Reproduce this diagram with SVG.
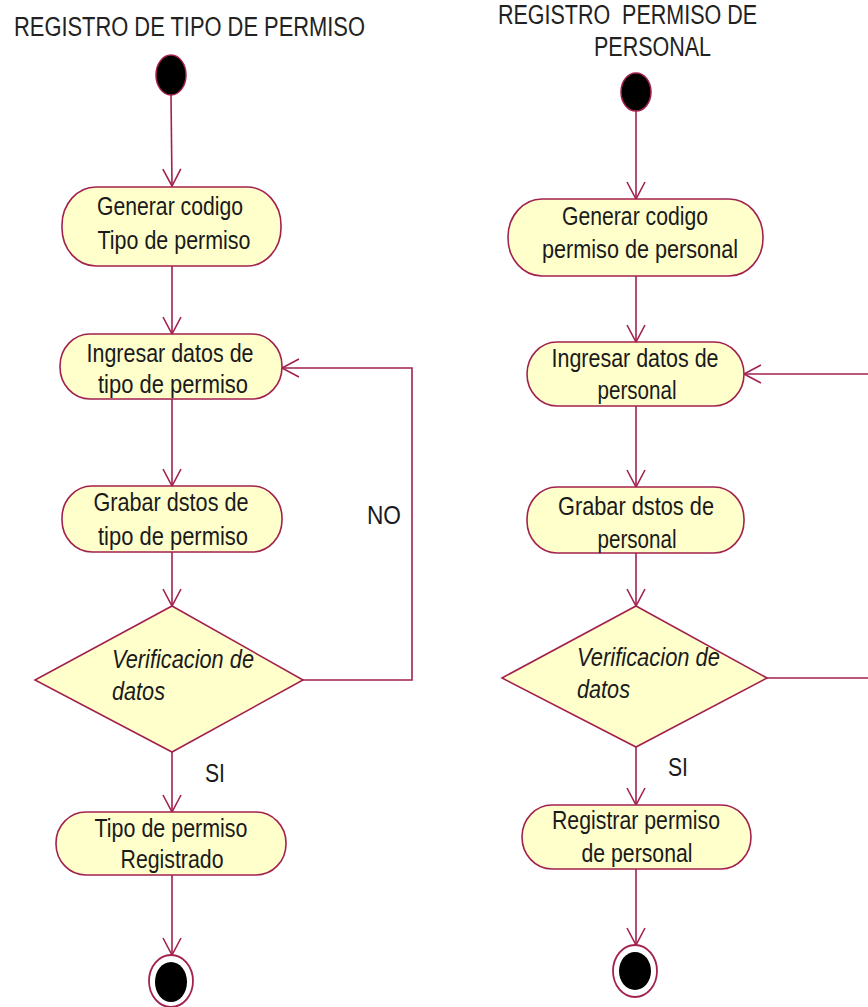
<svg xmlns="http://www.w3.org/2000/svg" width="868" height="1007" viewBox="0 0 868 1007">
<style>
.bg{fill:#ffffff}
.act{fill:#FFFFCC;stroke:#A3214F;stroke-width:1.6}
.dec{fill:#FFFFCC;stroke:#A3214F;stroke-width:1.6}
.start{fill:#000;stroke:#A3214F;stroke-width:1.5}
.endo{fill:#fff;stroke:#A3214F;stroke-width:1.8}
.edge{fill:none;stroke:#A3214F;stroke-width:1.6}
.t{font-family:"Liberation Sans",Arial,sans-serif;font-size:26px;fill:#1a1a1a}
.it{font-style:italic}
.title{font-family:"Liberation Sans",Arial,sans-serif;font-size:27px;fill:#222}
</style>
<defs>
<marker id="arr" markerWidth="20" markerHeight="24" viewBox="0 0 20 24" refX="18" refY="12" orient="auto" markerUnits="userSpaceOnUse">
<path d="M1,3 L18,12 L1,21" fill="none" stroke="#A3214F" stroke-width="1.6"/>
</marker>
</defs>
<rect class="bg" x="0" y="0" width="868" height="1007"/>

<text class="title" x="14" y="36" textLength="351" lengthAdjust="spacingAndGlyphs">REGISTRO DE TIPO DE PERMISO</text>
<text class="title" x="498" y="24" textLength="259" lengthAdjust="spacingAndGlyphs" xml:space="preserve">REGISTRO  PERMISO DE</text>
<text class="title" x="594" y="56" textLength="117" lengthAdjust="spacingAndGlyphs">PERSONAL</text>

<g id="connectors">
<line class="edge" x1="171" y1="95" x2="172" y2="186" marker-end="url(#arr)"/>
<line class="edge" x1="172" y1="266" x2="172" y2="334" marker-end="url(#arr)"/>
<line class="edge" x1="172" y1="399" x2="172" y2="486" marker-end="url(#arr)"/>
<line class="edge" x1="172" y1="552" x2="172" y2="606" marker-end="url(#arr)"/>
<line class="edge" x1="172" y1="752" x2="172" y2="812" marker-end="url(#arr)"/>
<line class="edge" x1="172" y1="875" x2="172" y2="955" marker-end="url(#arr)"/>
<polyline class="edge" points="303,680 412,680 412,368 282,368" marker-end="url(#arr)"/>

<line class="edge" x1="636" y1="110" x2="636" y2="199" marker-end="url(#arr)"/>
<line class="edge" x1="636" y1="276" x2="636" y2="342" marker-end="url(#arr)"/>
<line class="edge" x1="636" y1="406" x2="636" y2="487" marker-end="url(#arr)"/>
<line class="edge" x1="636" y1="553" x2="636" y2="606" marker-end="url(#arr)"/>
<line class="edge" x1="636" y1="747" x2="636" y2="805" marker-end="url(#arr)"/>
<line class="edge" x1="636" y1="869" x2="636" y2="945" marker-end="url(#arr)"/>
<line class="edge" x1="868" y1="374" x2="744" y2="374" marker-end="url(#arr)"/>
<line class="edge" x1="767" y1="678" x2="868" y2="678"/>
</g>

<text class="t" x="384" y="524" text-anchor="middle" textLength="34" lengthAdjust="spacingAndGlyphs">NO</text>
<text class="t" x="215" y="782" text-anchor="middle" textLength="20" lengthAdjust="spacingAndGlyphs">SI</text>
<text class="t" x="678" y="776" text-anchor="middle" textLength="20" lengthAdjust="spacingAndGlyphs">SI</text>

<g id="start1"><ellipse class="start" cx="171" cy="75" rx="15" ry="20"/></g>
<g id="gen1">
<rect class="act" x="62" y="187" width="219" height="79" rx="34" ry="38"/>
<text class="t" x="170" y="215" text-anchor="middle" textLength="146" lengthAdjust="spacingAndGlyphs">Generar codigo</text>
<text class="t" x="174" y="249" text-anchor="middle" textLength="153" lengthAdjust="spacingAndGlyphs">Tipo de permiso</text>
</g>
<g id="ing1">
<rect class="act" x="60" y="334" width="222" height="65" rx="30" ry="32"/>
<text class="t" x="170" y="362" text-anchor="middle" textLength="167" lengthAdjust="spacingAndGlyphs">Ingresar datos de</text>
<text class="t" x="173" y="393" text-anchor="middle" textLength="150" lengthAdjust="spacingAndGlyphs">tipo de permiso</text>
</g>
<g id="grab1">
<rect class="act" x="62" y="486" width="220" height="66" rx="30" ry="32"/>
<text class="t" x="171" y="511" text-anchor="middle" textLength="155" lengthAdjust="spacingAndGlyphs">Grabar dstos de</text>
<text class="t" x="173" y="545" text-anchor="middle" textLength="150" lengthAdjust="spacingAndGlyphs">tipo de permiso</text>
</g>
<g id="ver1">
<polygon class="dec" points="172,606 303,680 172,752 35,680"/>
<text class="t it" x="112" y="668" textLength="142" lengthAdjust="spacingAndGlyphs">Verificacion de</text>
<text class="t it" x="112" y="700" textLength="53" lengthAdjust="spacingAndGlyphs">datos</text>
</g>
<g id="reg1">
<rect class="act" x="56" y="812" width="230" height="63" rx="30" ry="31"/>
<text class="t" x="171" y="837" text-anchor="middle" textLength="153" lengthAdjust="spacingAndGlyphs">Tipo de permiso</text>
<text class="t" x="172" y="868" text-anchor="middle" textLength="103" lengthAdjust="spacingAndGlyphs">Registrado</text>
</g>
<g id="end1">
<ellipse class="endo" cx="171" cy="981" rx="22" ry="26"/>
<ellipse cx="171" cy="982" rx="16" ry="20" fill="#000"/>
</g>

<g id="start2"><ellipse class="start" cx="636" cy="92" rx="15" ry="19"/></g>
<g id="gen2">
<rect class="act" x="508" y="199" width="255" height="77" rx="34" ry="38"/>
<text class="t" x="635" y="225" text-anchor="middle" textLength="146" lengthAdjust="spacingAndGlyphs">Generar codigo</text>
<text class="t" x="640" y="258" text-anchor="middle" textLength="196" lengthAdjust="spacingAndGlyphs">permiso de personal</text>
</g>
<g id="ing2">
<rect class="act" x="527" y="342" width="217" height="64" rx="30" ry="32"/>
<text class="t" x="635" y="367" text-anchor="middle" textLength="167" lengthAdjust="spacingAndGlyphs">Ingresar datos de</text>
<text class="t" x="637" y="399" text-anchor="middle" textLength="79" lengthAdjust="spacingAndGlyphs">personal</text>
</g>
<g id="grab2">
<rect class="act" x="527" y="487" width="217" height="66" rx="30" ry="32"/>
<text class="t" x="636" y="515" text-anchor="middle" textLength="156" lengthAdjust="spacingAndGlyphs">Grabar dstos de</text>
<text class="t" x="637" y="548" text-anchor="middle" textLength="79" lengthAdjust="spacingAndGlyphs">personal</text>
</g>
<g id="ver2">
<polygon class="dec" points="636,606 767,678 636,747 502,678"/>
<text class="t it" x="577" y="666" textLength="143" lengthAdjust="spacingAndGlyphs">Verificacion de</text>
<text class="t it" x="577" y="698" textLength="53" lengthAdjust="spacingAndGlyphs">datos</text>
</g>
<g id="reg2">
<rect class="act" x="522" y="805" width="229" height="64" rx="30" ry="32"/>
<text class="t" x="636" y="829" text-anchor="middle" textLength="168" lengthAdjust="spacingAndGlyphs">Registrar permiso</text>
<text class="t" x="637" y="862" text-anchor="middle" textLength="111" lengthAdjust="spacingAndGlyphs">de personal</text>
</g>
<g id="end2">
<ellipse class="endo" cx="635" cy="971" rx="22" ry="26"/>
<ellipse cx="635" cy="971" rx="16" ry="19" fill="#000"/>
</g>
</svg>
